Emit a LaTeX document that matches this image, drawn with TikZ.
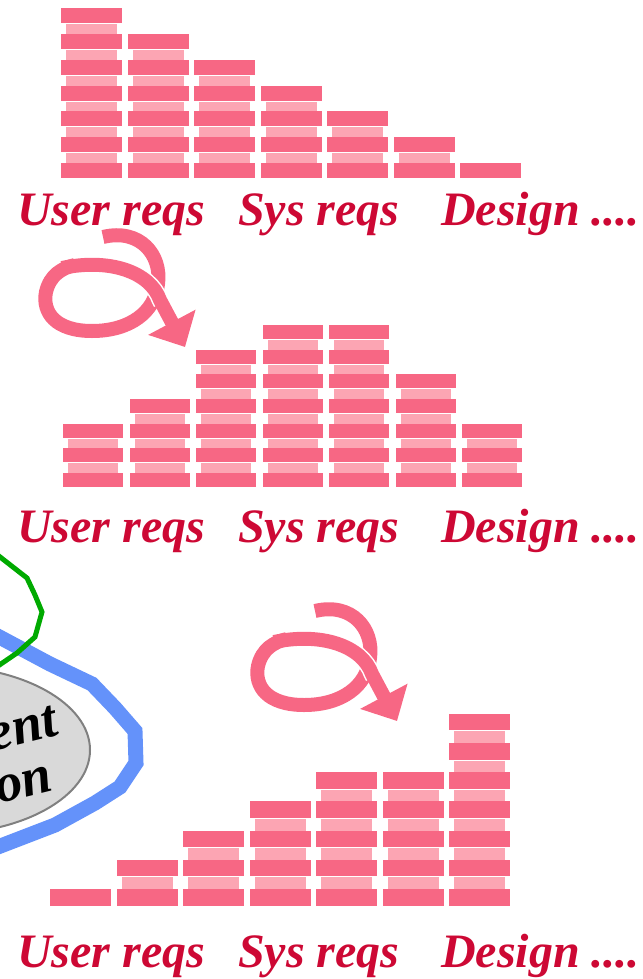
\documentclass[tikz,border=0pt]{standalone}
\usepackage{fontspec}
\setmainfont{Liberation Serif}
\usetikzlibrary{shapes.geometric, arrows.meta}

\definecolor{brickpink}{RGB}{247,103,132}
\definecolor{mortarpink}{RGB}{252,165,179}
\definecolor{phasered}{RGB}{205,8,52}
\definecolor{bandblue}{RGB}{100,146,250}
\definecolor{loopgreen}{RGB}{0,170,0}
\definecolor{specgray}{RGB}{217,217,217}

\begin{document}
\begin{tikzpicture}[x=1pt, y=-1pt,
  every node/.style={font=\fontsize{48}{50}\selectfont\bfseries\itshape, inner sep=0pt},
  brick/.style={fill=brickpink},
  mortar/.style={fill=mortarpink},
  phase/.style={text=phasered, anchor=base west},
  spectext/.style={font=\fontsize{54}{56}\selectfont\bfseries\itshape, rotate=14, anchor=base east},
  ribbon/.style={draw=brickpink, line width=14pt},
  ribbontop/.style={draw=brickpink, line width=14pt, -{Triangle[width=52pt,length=28pt]},
    preaction={draw=white, line width=17pt, dash pattern=on 0pt off 55pt on 60pt off 400pt}}]
  \useasboundingbox (0,0) rectangle (642,979);

  % spec ellipse, cut off by the left edge
  \node[draw=gray, line width=2pt, fill=specgray, ellipse, minimum width=300pt, minimum height=168pt] (spec) at (-60,750) {};
  \node[spectext] (spec1) at (60,735) {ent};
  \node[spectext] (spec2) at (55,790) {ion};
  \draw[bandblue, line width=15pt] (-10,632) -- (50,664) -- (92,684) -- (115,708) -- (135,731) -- (136,763) -- (120,787) -- (95,803) -- (55,825) -- (-10,850);
  \draw[loopgreen, line width=5pt] (-5,553) -- (27,578) -- (35,595) -- (42,612) -- (35,637) -- (17,653) -- (-5,668);

  % stacks: left x / bottom brick y / row step / brick height / brick width / heights
  \foreach \xa/\yb/\dy/\hb/\wb/\hts in {61/163/25.8/15/61/{7,6,5,4,3,2,1}, 63/473/24.7/14/60/{3,4,6,7,7,5,3}, 50/889/29.2/16.5/61/{1,2,3,4,5,5,7}}
    \foreach \n [count=\c] in \hts
      \foreach \k in {1,...,\n} {
        \pgfmathsetmacro{\xl}{\xa+(\c-1)*66.5}
        \pgfmathsetmacro{\yt}{\yb-(\k-1)*\dy}
        \fill[brick] (\xl,\yt) rectangle ++(\wb,\hb);
        \ifnum\k<\n
          \fill[mortar] (\xl+5,\yt-\dy+\hb+1) rectangle (\xl+\wb-5,\yt);
        \fi
      };

  % phase labels
  \foreach \yb [count=\p] in {225,542,967} {
    \node[phase] (user\p) at (17,\yb) {User reqs};
    \node[phase] (sys\p) at (238,\yb) {Sys reqs};
    \node[phase] (design\p) at (441,\yb) {Design ....};
  }

  % curly arrows between panels
  \foreach \sx/\sy in {0/0, 212/374} {
    \draw[ribbon, shift={(\sx,\sy)}] (103,237) .. controls (140,228) and (162,255) .. (158,284)
      .. controls (155,312) and (130,331) .. (92,331) .. controls (55,331) and (42,312) .. (46,292)
      .. controls (50,275) and (62,268) .. (75,265);
    \draw[ribbontop, shift={(\sx,\sy)}] (62,268) .. controls (110,258) and (150,272) .. (160,300)
      -- (185,347);
  }
\end{tikzpicture}
\end{document}
